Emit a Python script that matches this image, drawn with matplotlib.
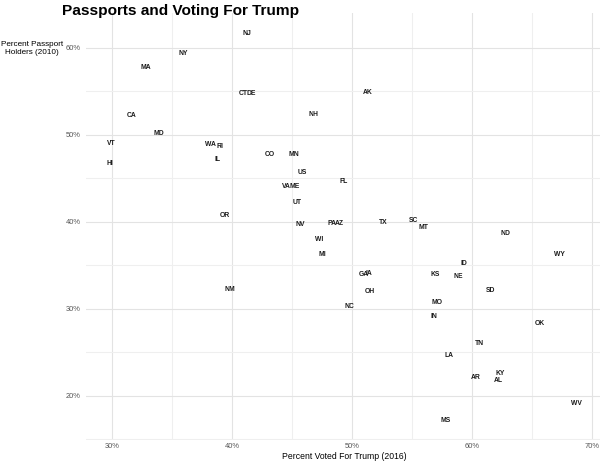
import matplotlib
matplotlib.use("Agg")
import matplotlib.pyplot as plt
from matplotlib.ticker import MultipleLocator, FuncFormatter

plt.rcParams['font.family'] = ['Liberation Sans', 'DejaVu Sans']

# state labels, share voting Trump 2016 (%), share holding passports 2010 (%)
states = ['NJ', 'NY', 'MA', 'CT', 'DE', 'CA', 'NH', 'AK', 'MD', 'VT',
          'HI', 'WA', 'RI', 'IL', 'CO', 'MN', 'US', 'FL', 'VA', 'ME',
          'UT', 'OR', 'NV', 'PA', 'AZ', 'TX', 'SC', 'MT', 'WI', 'MI',
          'ND', 'WY', 'ID', 'GA', 'IA', 'KS', 'NE', 'OH', 'SD', 'NM',
          'NC', 'MO', 'IN', 'OK', 'TN', 'LA', 'AR', 'KY', 'AL', 'WV', 'MS']
trump = [41.2, 35.9, 32.8, 40.9, 41.6, 31.6, 46.8, 51.3, 33.9, 29.9,
         29.8, 38.2, 39.0, 38.8, 43.1, 45.1, 45.8, 49.3, 44.5, 45.2,
         45.4, 39.4, 45.7, 48.3, 48.9, 52.6, 55.1, 55.9, 47.2, 47.5,
         62.8, 67.3, 59.3, 51.0, 51.4, 56.9, 58.8, 51.5, 61.5, 39.8,
         49.8, 57.1, 56.8, 65.6, 60.6, 58.1, 60.3, 62.3, 62.2, 68.7, 57.8]
passport = [61.7, 59.3, 57.7, 54.7, 54.7, 52.2, 52.3, 54.9, 50.1, 49.0,
            46.7, 48.9, 48.7, 47.1, 47.7, 47.7, 45.7, 44.6, 44.1, 44.1,
            42.2, 40.7, 39.7, 39.8, 39.8, 39.9, 40.1, 39.3, 37.9, 36.2,
            38.6, 36.2, 35.2, 33.9, 34.0, 33.9, 33.7, 32.0, 32.1, 32.2,
            30.2, 30.7, 29.1, 28.3, 26.0, 24.6, 22.1, 22.6, 21.7, 19.1, 17.1]

fig = plt.figure(figsize=(6, 4.61), dpi=100)
ax = fig.add_axes([86 / 600, 21 / 461, 514 / 600, 427 / 461])

for s, x, y in zip(states, trump, passport):
    ax.text(x, y, s, ha='center', va='center', fontsize=4.9,
            fontweight='bold', color='#1a1a1a')

ax.set_xlim(27.8, 70.65)
ax.set_ylim(14.9, 64.0)

ax.xaxis.set_major_locator(MultipleLocator(10))
ax.xaxis.set_minor_locator(MultipleLocator(5))
ax.yaxis.set_major_locator(MultipleLocator(10))
ax.yaxis.set_minor_locator(MultipleLocator(5))
pct = FuncFormatter(lambda v, _: f"{v:.0f}%")
ax.xaxis.set_major_formatter(pct)
ax.yaxis.set_major_formatter(pct)

ax.grid(which='major', color='#e3e3e3', linewidth=0.8)
ax.grid(which='minor', color='#efefef', linewidth=0.8)
ax.set_axisbelow(True)
for sp in ax.spines.values():
    sp.set_visible(False)
ax.tick_params(which='both', length=0, labelsize=5.4, labelcolor='#555555')
ax.tick_params(axis='x', pad=2)
ax.tick_params(axis='y', pad=4)

fig.text(344 / 600, 1 - 456 / 461, 'Percent Voted For Trump (2016)',
         ha='center', va='center', fontsize=6.2, color='#000000')
fig.text(32 / 600, 1 - 48.5 / 461, 'Percent Passport\nHolders (2010)',
         ha='center', va='center', fontsize=5.9, color='#000000',
         linespacing=1.15)
fig.text(62 / 600, 1 - 15 / 461, 'Passports and Voting For Trump',
         ha='left', va='baseline', fontsize=11.1, fontweight='bold')

fig.savefig('out.png', dpi=100)
